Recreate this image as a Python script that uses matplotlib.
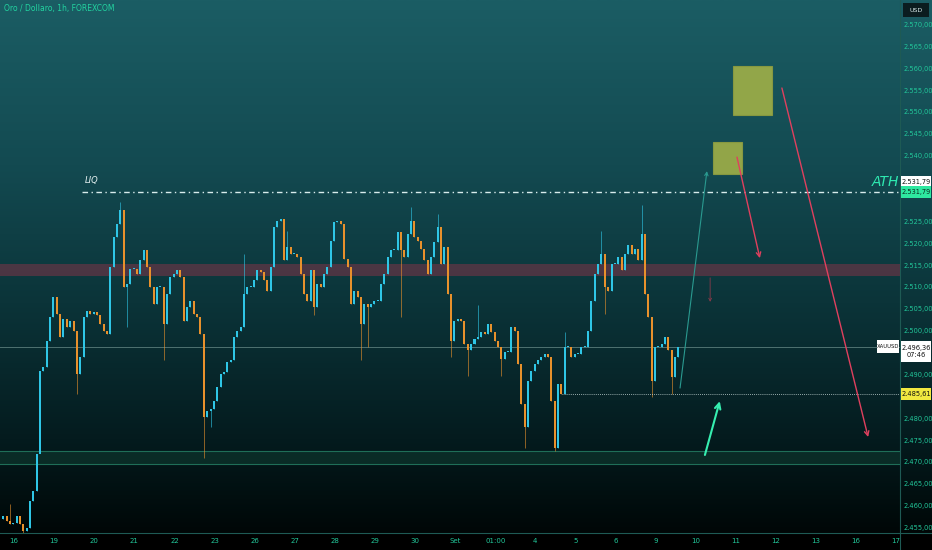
import numpy as np
import matplotlib
matplotlib.use("Agg")
import matplotlib.pyplot as plt
from matplotlib.colors import LinearSegmentedColormap
from matplotlib.patches import Rectangle, FancyArrowPatch

# 2h closes (XAUUSD)
closes = [
    2457.8, 2456.6, 2455.9, 2456.2, 2457.8, 2455.9, 2454.3, 2455.1, 2461.2, 2463.5,
    2471.9, 2491.0, 2491.7, 2497.8, 2503.2, 2507.8, 2504.0, 2498.6, 2502.8, 2500.9,
    2502.4, 2500.1, 2490.2, 2494.0, 2503.2, 2504.7, 2504.0, 2504.3, 2503.6, 2501.7,
    2500.1, 2499.4, 2514.6, 2521.5, 2524.6, 2527.6, 2510.0, 2510.8, 2514.3, 2514.3,
    2513.1, 2516.2, 2518.5, 2514.6, 2510.1, 2506.2, 2510.1, 2510.1, 2501.7, 2508.5,
    2512.4, 2513.1, 2513.9, 2512.4, 2502.4, 2505.5, 2507.0, 2504.0, 2503.2, 2499.4,
    2480.3, 2481.8, 2482.2, 2484.1, 2487.2, 2490.2, 2490.6, 2492.9, 2493.3, 2498.6,
    2500.1, 2500.9, 2508.5, 2510.1, 2510.1, 2511.6, 2513.9, 2513.5, 2511.6, 2509.3,
    2514.6, 2523.8, 2525.3, 2525.7, 2516.2, 2519.2, 2517.7, 2517.7, 2516.9, 2513.1,
    2508.5, 2507.0, 2513.9, 2505.5, 2510.8, 2510.1, 2513.1, 2514.6, 2520.7, 2524.9,
    2525.3,
    2524.6, 2516.6, 2514.6, 2506.2, 2509.3, 2507.8, 2501.7, 2506.2, 2505.5, 2506.2,
    2507.0, 2507.0, 2510.8, 2513.1, 2516.9, 2518.5, 2518.5, 2522.7, 2518.5, 2516.9,
    2522.3, 2525.3, 2521.5, 2520.7, 2518.8, 2516.2, 2513.1, 2516.9, 2520.4, 2523.8,
    2515.4, 2519.2, 2508.5, 2497.8, 2502.4, 2502.8, 2502.4, 2497.1, 2495.6, 2497.1,
    2498.2, 2498.6, 2499.8, 2499.4, 2501.7, 2499.8, 2497.8, 2496.3, 2493.6, 2495.2,
    2495.2,
    2500.9, 2500.1, 2492.5, 2483.3, 2478.0, 2488.7, 2491.0, 2492.5, 2493.3, 2494.0,
    2494.8, 2494.0, 2484.1, 2473.4, 2487.9, 2485.6, 2496.3, 2496.3, 2494.0, 2494.8,
    2494.8, 2496.3, 2496.3, 2500.1, 2507.0, 2513.1, 2515.4, 2517.7, 2510.1, 2509.3,
    2515.4, 2515.4, 2516.9, 2513.9, 2517.7, 2519.6, 2517.7, 2518.8, 2516.2, 2522.3,
    2508.5, 2503.2, 2488.7, 2496.3, 2496.3, 2497.1, 2498.6, 2495.6, 2489.5, 2494.0,
    2496.36,
]
first_open = 2457.0
spike_highs = {35: 2529.5, 72: 2517.7, 85: 2523.0, 122: 2528.4, 130: 2526.9,
               142: 2506.0, 168: 2499.8, 179: 2523.0, 191: 2528.8, 2: 2460.5}
spike_lows = {6: 2453.9, 11: 2477.2, 22: 2485.6, 37: 2500.9, 48: 2493.3, 60: 2471.1,
              62: 2478.0, 93: 2503.6, 107: 2493.3, 109: 2496.3, 119: 2503.2,
              134: 2494.0, 139: 2489.8, 149: 2489.8, 156: 2473.4, 165: 2472.7,
              180: 2504.0, 194: 2484.9, 200: 2485.6}

day_labels = ["16", "19", "20", "21", "22", "23", "26", "27", "28", "29", "30", "Set",
              "01:00", "4", "5", "6", "9", "10", "11", "12", "13", "16", "17"]
price_ticks = list(range(2455, 2571, 5))

liq_level = 2531.79
last_price = 2496.36
last_time = "07:46"
support_level = 2485.61
red_zone = (2512.6, 2515.4)
green_zone = (2469.6, 2472.6)

W, H = 932, 550
fig = plt.figure(figsize=(W / 100, H / 100), dpi=100)

# background gradient
bg = fig.add_axes([0, 0, 1, 1])
bg.axis("off")
cmap = LinearSegmentedColormap.from_list("bg", [
    (0.0, "#1b5d64"), (0.3, "#134a51"), (0.55, "#0b3439"),
    (0.8, "#041b1e"), (0.96, "#000808"), (1.0, "#000000")])
bg.imshow(np.linspace(0, 1, 256).reshape(-1, 1), aspect="auto", cmap=cmap,
          extent=[0, 1, 0, 1])
bg.add_patch(Rectangle((0, 0), 1, 17 / H, color="black", zorder=2))
bg.plot([0, 1], [17 / H, 17 / H], color="#1e5a54", lw=0.8, zorder=3)
bg.plot([900 / W, 900 / W], [0, 1], color="#1e5a54", lw=0.8, zorder=3)
bg.set_xlim(0, 1)
bg.set_ylim(0, 1)

ax = fig.add_axes([0, 17 / H, 900 / W, 533 / H])
ax.set_xlim(-0.349, 22.095)
ax.set_ylim(2453.86, 2575.72)
ax.axis("off")

# zones
ax.axhspan(red_zone[0], red_zone[1], color="#8a3448", alpha=0.5, lw=0, zorder=1)
ax.axhspan(green_zone[0], green_zone[1], color="#0f3a30", alpha=0.6, lw=0, zorder=1)
ax.axhline(green_zone[0], color="#1f6e58", lw=0.8, zorder=1)
ax.axhline(green_zone[1], color="#1f6e58", lw=0.8, zorder=1)
ax.axhline(last_price, color="#4f7270", lw=0.7, zorder=1)

# candles
step = 1 / 12
xs = -0.266 + np.arange(len(closes)) * step
opens = [first_open] + closes[:-1]
up_col, dn_col = "#2fc6e6", "#e8912c"
for i, (x, o, c) in enumerate(zip(xs, opens, closes)):
    col = up_col if c >= o else dn_col
    hi = spike_highs.get(i, max(o, c))
    lo = spike_lows.get(i, min(o, c))
    ax.vlines(x, lo, hi, color=col, lw=0.6, alpha=0.7, zorder=3)
    ax.bar(x, max(abs(c - o), 0.2), bottom=min(o, c), width=step * 0.6,
           color=col, lw=0, zorder=4)

# LIQ line
ax.plot([1.696, 22.095], [liq_level, liq_level], color="#d8ecec", lw=1,
        dashes=(4, 2.5, 1, 2.5), zorder=5)
ax.text(1.77, liq_level + 1.6, "LIQ", color="#e8f4f4", fontsize=6, style="italic",
        va="bottom", zorder=6)
ax.text(21.4, liq_level + 2.3, "ATH", color="#2ee8b0", fontsize=10, style="italic",
        va="center", zorder=6)

# support dotted line
ax.plot([13.67, 22.095], [support_level, support_level], color="#c8d8d8", lw=0.6,
        ls=(0, (1, 1.5)), zorder=5)

# target boxes
for x0, x1, y0, y1 in [(17.93, 18.90, 2549.4, 2560.6), (17.43, 18.15, 2535.9, 2543.3)]:
    ax.add_patch(Rectangle((x0, y0), x1 - x0, y1 - y0, facecolor="#9aab48",
                           edgecolor="#8a9a40", lw=0.8, alpha=0.95, zorder=6))

# arrows
def arrow(p0, p1, col, lw, ms=8):
    ax.add_patch(FancyArrowPatch(p0, p1, arrowstyle="->", mutation_scale=ms,
                                 color=col, lw=lw, zorder=7, shrinkA=0, shrinkB=0))

arrow((16.61, 2487.0), (17.28, 2536.6), "#2a9a90", 0.8, 6)
arrow((18.03, 2539.8), (18.60, 2516.7), "#e0405e", 1.0)
arrow((17.36, 2512.2), (17.36, 2506.7), "#8a3a4a", 0.6, 5)
arrow((19.15, 2555.6), (21.30, 2475.8), "#e0405e", 1.0)
arrow((17.23, 2471.7), (17.60, 2484.0), "#36eeb0", 1.5, 10)

# date labels
for k, lab in enumerate(day_labels):
    ax.text(k, -0.015, lab, transform=ax.get_xaxis_transform(), ha="center",
            va="center", color="#22c79a", fontsize=5, clip_on=False)

# price axis
axr = fig.add_axes([900 / W, 17 / H, 32 / W, 533 / H])
axr.set_xlim(0, 1)
axr.set_ylim(2453.86, 2575.72)
axr.axis("off")
tag_levels = [2534.1, liq_level, 2495.4, support_level]
for p in price_ticks:
    # labels hidden under the price tags, as on the chart
    if min(abs(p - t) for t in tag_levels) < 3.2:
        continue
    axr.text(0.1, p, "%d.%03d,00" % (p // 1000, p % 1000), color="#22c79a",
             fontsize=4.8, va="center", ha="left")

def tag(ax_, x0, x1, yc, hgt, text, fc, tc, fs=4.8):
    tr = ax_.get_yaxis_transform()
    ax_.add_patch(Rectangle((x0, yc - hgt / 2), x1 - x0, hgt, transform=tr,
                            facecolor=fc, edgecolor="none", zorder=8, clip_on=False))
    ax_.text((x0 + x1) / 2, yc, text, transform=tr, color=tc, fontsize=fs,
             ha="center", va="center", zorder=9, clip_on=False, linespacing=1.1)

tag(axr, 0.03, 0.97, 2534.1, 2.7, "2.531,79", "white", "#111111")
tag(axr, 0.03, 0.97, liq_level, 2.7, "2.531,79", "#2ee8a0", "#0a2a20")
tag(axr, 0.03, 0.97, 2495.4, 4.8, "2.496,36\n" + last_time, "white", "#111111")
tag(axr, 0.03, 0.97, support_level, 2.7, "2.485,61", "#f2e840", "#111111")
tag(ax, 0.974, 0.999, 2496.4, 3.0, "XAUUSD", "white", "#111111", 3.8)
tag(axr, 0.08, 0.92, 2573.4, 3.2, "USD", "#0b1c1f", "#d8e8e8", 4.5)

fig.text(4 / W, 1 - 9 / H, "Oro / Dollaro, 1h, FOREXCOM", color="#22d3a0",
         fontsize=5.5, va="center", ha="left")

fig.savefig("out.png", dpi=100)
